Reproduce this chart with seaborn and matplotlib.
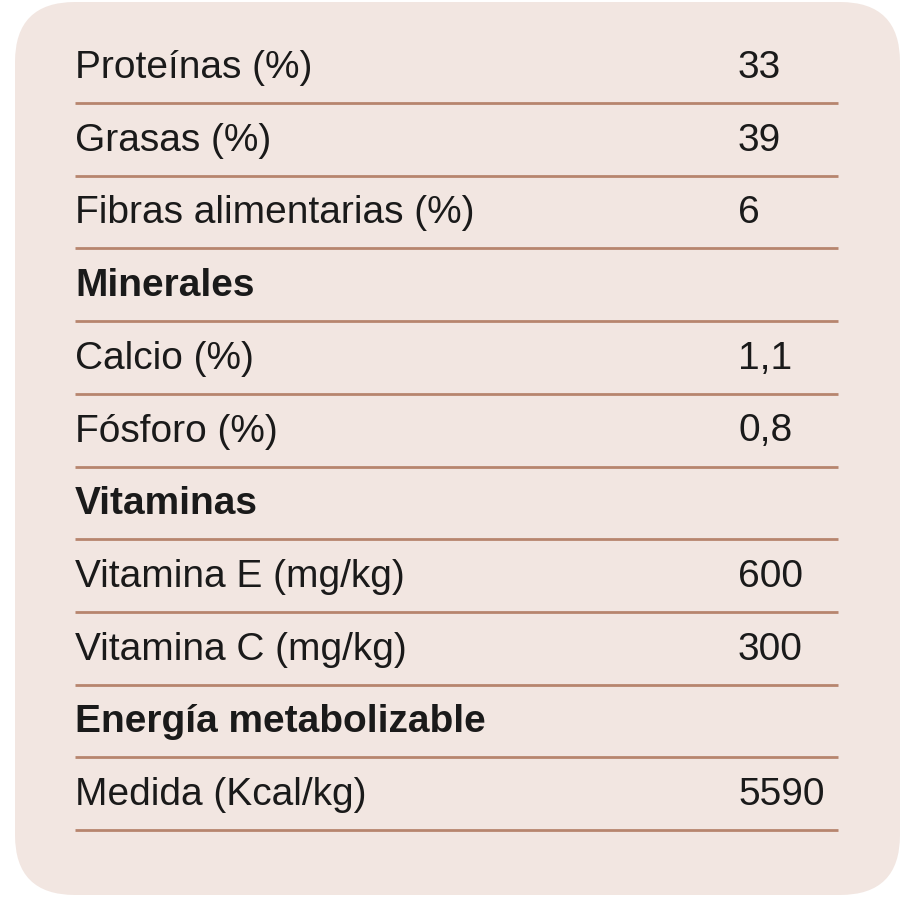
import matplotlib
matplotlib.use("Agg")
import matplotlib.pyplot as plt
import seaborn as sns
from matplotlib.patches import FancyBboxPatch

labels = ["Proteínas (%)", "Grasas (%)", "Fibras alimentarias (%)", "Minerales",
          "Calcio (%)", "Fósforo (%)", "Vitaminas", "Vitamina E (mg/kg)",
          "Vitamina C (mg/kg)", "Energía metabolizable", "Medida (Kcal/kg)"]
values = ["33", "39", "6", "", "1,1", "0,8", "", "600", "300", "", "5590"]
is_header = [False, False, False, True, False, False, True, False, False, True, False]

sns.set_theme(style="white", font=["Liberation Sans Narrow", "Liberation Sans", "DejaVu Sans"])
fig = plt.figure(figsize=(9, 9), dpi=100)
ax = fig.add_axes([0, 0, 1, 1])
ax.set_xlim(0, 900); ax.set_ylim(900, 0); ax.axis("off")
fig.patch.set_facecolor("white")
ax.add_patch(FancyBboxPatch((15, 2), 885, 893, boxstyle="round,pad=0,rounding_size=60",
                            facecolor="#F2E6E1", edgecolor="none"))
line_col = "#B7856E"
y0, step = 68, 72.7
for i, (lab, val, h) in enumerate(zip(labels, values, is_header)):
    y = y0 + i * step
    ax.text(75, y, lab, fontsize=28, va="center", ha="left", color="#1a1a1a",
            fontweight="bold" if h else "normal")
    if val:
        ax.text(738, y, val, fontsize=28, va="center", ha="left", color="#1a1a1a")
    ax.hlines(y + 35, 75, 838, color=line_col, lw=2)
fig.savefig("out.png", dpi=100)
